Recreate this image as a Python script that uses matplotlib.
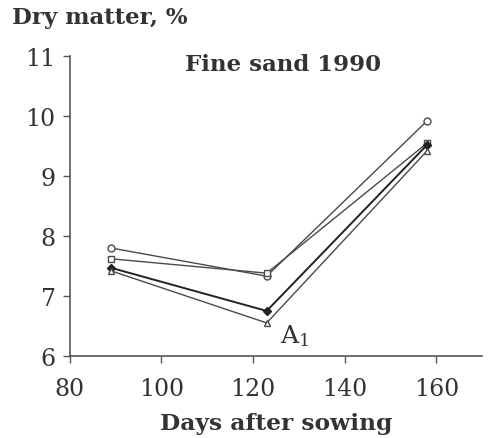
import matplotlib
matplotlib.use("Agg")
import matplotlib.pyplot as plt

days = [89, 123, 158]
series_circle = [7.80, 7.33, 9.92]
series_square = [7.62, 7.38, 9.55]
series_diamond = [7.47, 6.75, 9.52]
series_a1 = [7.42, 6.55, 9.42]

x_ticks = [80, 100, 120, 140, 160]
y_ticks = [6, 7, 8, 9, 10, 11]

plt.rcParams['font.family'] = ['DejaVu Serif']
plt.rcParams['mathtext.fontset'] = 'dejavuserif'

fig = plt.figure(figsize=(4.9, 4.39), dpi=100)
ax = fig.add_axes([0.142, 0.187, 0.842, 0.683])

col = '#4a4a4a'
lw = 1.0
ax.plot(days, series_circle, color=col, lw=lw, marker='o', ms=5, mfc='white', mec=col, mew=1.0)
ax.plot(days, series_square, color=col, lw=lw, marker='s', ms=5, mfc='white', mec=col, mew=1.0)
ax.plot(days, series_diamond, color='#222222', lw=1.4, marker='D', ms=4.5, mfc='#222222', mec='#222222')
ax.plot(days, series_a1, color=col, lw=lw, marker='^', ms=4.5, mfc='white', mec=col, mew=1.0)

ax.set_xlim(80, 170)
ax.set_ylim(6, 11)
ax.set_xticks(x_ticks)
ax.set_yticks(y_ticks)
ax.spines['top'].set_visible(False)
ax.spines['right'].set_visible(False)
for s in ['left', 'bottom']:
    ax.spines[s].set_color('#555555')
    ax.spines[s].set_linewidth(1.2)
ax.tick_params(axis='both', colors='#555555', width=1.0, length=5, labelsize=17,
               labelcolor='#333333', pad=5)
ax.tick_params(axis='x', pad=10)

ax.set_xlabel('Days after sowing', fontsize=16.8, color='#333333', labelpad=9, fontweight='bold')
fig.text(0.025, 0.958, 'Dry matter, %', fontsize=16.5, color='#333333', fontweight='bold',
         ha='left', va='center')
ax.text(126.5, 10.87, 'Fine sand 1990', fontsize=16.5, color='#333333', fontweight='bold',
        ha='center', va='center')
ax.text(126, 6.35, 'A$_1$', fontsize=18, color='#333333', ha='left', va='center')

fig.savefig('out.png', dpi=100)
